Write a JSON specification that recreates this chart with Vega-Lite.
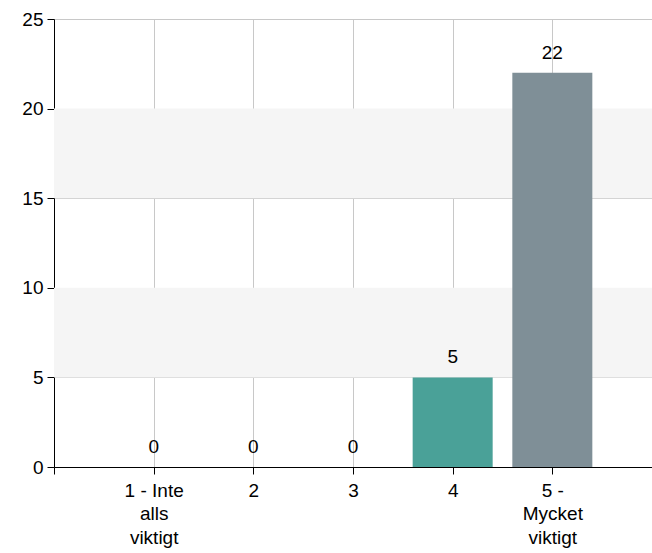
{
  "$schema": "https://vega.github.io/schema/vega-lite/v6.json",
  "width": 598,
  "height": 448,
  "autosize": "none",
  "padding": {"left": 54, "top": 19, "right": 0, "bottom": 86},
  "background": "white",
  "config": {
    "view": {"stroke": null},
    "font": "Liberation Sans",
    "axis": {
      "labelFont": "Liberation Sans",
      "labelFontSize": 19,
      "labelColor": "#000000",
      "domainColor": "#000000",
      "tickColor": "#000000",
      "tickSize": 7,
      "gridColor": "#c8c8c8",
      "gridWidth": 1
    }
  },
  "datasets": {
    "bars": [
      {"category": 1, "count": 0},
      {"category": 2, "count": 0},
      {"category": 3, "count": 0},
      {"category": 4, "count": 5},
      {"category": 5, "count": 22}
    ],
    "bands": [
      {"from": 5, "to": 10},
      {"from": 15, "to": 20}
    ]
  },
  "layer": [
    {
      "data": {"name": "bands"},
      "mark": {"type": "rect", "color": "#f5f5f5"},
      "encoding": {
        "y": {"field": "from", "type": "quantitative", "scale": {"domain": [0, 25]}},
        "y2": {"field": "to"}
      }
    },
    {
      "data": {"name": "bars"},
      "mark": {"type": "bar", "size": 80},
      "encoding": {
        "x": {
          "field": "category",
          "type": "quantitative",
          "scale": {"domain": [0, 6], "nice": false, "zero": true, "padding": 0},
          "axis": {
            "title": null,
            "values": [0, 1, 2, 3, 4, 5],
            "format": "d",
            "grid": true,
            "gridColor": {"condition": {"test": "datum.value == 0", "value": "transparent"}, "value": "#c8c8c8"},
            "labelExpr": "datum.value == 1 ? ['1 - Inte', 'alls', 'viktigt'] : datum.value == 5 ? ['5 -', 'Mycket', 'viktigt'] : datum.value == 0 ? '' : datum.label",
            "labelLineHeight": 23.5,
            "labelPadding": 7,
            "labelBaseline": "top",
            "domainColor": "#000000"
          }
        },
        "y": {
          "field": "count",
          "type": "quantitative",
          "scale": {"domain": [0, 25], "nice": false},
          "axis": {
            "title": null,
            "values": [0, 5, 10, 15, 20, 25],
            "grid": true,
            "labelPadding": 4,
            "domain": true
          }
        },
        "color": {
          "field": "category",
          "type": "nominal",
          "scale": {"domain": [1, 2, 3, 4, 5], "range": ["#c0504d", "#9bbb59", "#8064a2", "#4aa198", "#7f8f97"]},
          "legend": null
        }
      }
    },
    {
      "data": {"name": "bars"},
      "mark": {"type": "text", "fontSize": 19, "baseline": "alphabetic", "dy": -14, "color": "#000000"},
      "encoding": {
        "x": {"field": "category", "type": "quantitative"},
        "y": {"field": "count", "type": "quantitative"},
        "text": {"field": "count", "type": "quantitative"}
      }
    }
  ]
}
